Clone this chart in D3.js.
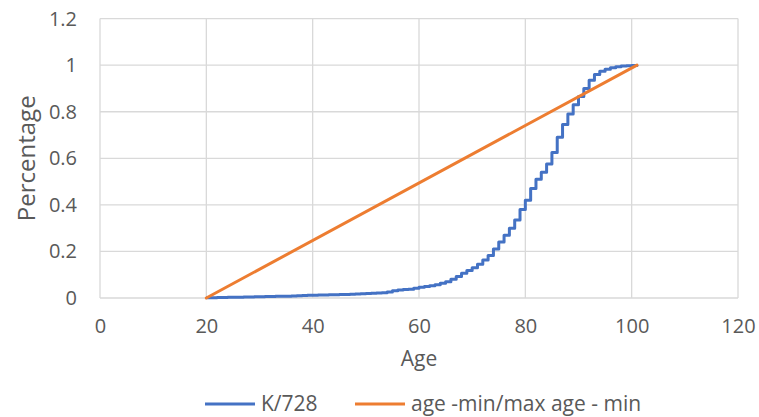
<!DOCTYPE html>
<html>
<head>
<meta charset="utf-8">
<script src="https://cdn.jsdelivr.net/npm/d3@7"></script>
<style>
  html, body { margin: 0; padding: 0; background: #fff; }
  svg { display: block; font-family: "Open Sans", "Noto Sans", sans-serif; }
</style>
</head>
<body>
<svg id="chart" width="759" height="417"></svg>
<script>
// Cumulative share of people at or below each age (K/728)
const ages = [
  20,21,22,23,24,25,26,27,28,29,30,31,32,33,34,35,36,37,38,39,
  40,41,42,43,44,45,46,47,48,49,50,51,52,53,54,55,56,57,58,59,
  60,61,62,63,64,65,66,67,68,69,70,71,72,73,74,75,76,77,78,79,
  80,81,82,83,84,85,86,87,88,89,90,91,92,93,94,95,96,97,98,99,
  100,101
];
const cumShare = [
  0.001,0.001,0.002,0.002,0.003,0.003,0.003,0.004,0.004,0.005,0.005,0.006,0.006,0.007,0.008,0.008,0.009,0.010,0.011,0.012,
  0.012,0.013,0.013,0.014,0.014,0.015,0.015,0.016,0.017,0.018,0.019,0.020,0.021,0.023,0.026,0.031,0.034,0.036,0.038,0.042,
  0.046,0.049,0.053,0.057,0.063,0.070,0.080,0.092,0.106,0.118,0.130,0.145,0.163,0.183,0.210,0.240,0.270,0.300,0.335,0.380,
  0.420,0.470,0.510,0.540,0.575,0.625,0.690,0.745,0.790,0.830,0.865,0.900,0.935,0.960,0.974,0.983,0.989,0.993,0.996,0.998,
  0.999,1.000
];
// Linear reference: (age - min) / (max age - min)
const minAge = 20, maxAge = 101;
const linearAges = [minAge, maxAge];
const linearShare = [0, 1];

const xTicks = [0, 20, 40, 60, 80, 100, 120];
const yTicks = [0, 0.2, 0.4, 0.6, 0.8, 1, 1.2];
const seriesNames = ["K/728", "age -min/max age - min"];
const seriesColors = ["#4472C4", "#ED7D31"];

const svg = d3.select("#chart");
const plot = { left: 100, right: 738, top: 18.6, bottom: 298 };

const x = d3.scaleLinear().domain([0, 120]).range([plot.left, plot.right]);
const y = d3.scaleLinear().domain([0, 1.2]).range([plot.bottom, plot.top]);

const textColor = "#595959";
const gridColor = "#d9d9d9";

// Gridlines
const grid = svg.append("g");
grid.selectAll(".hg").data(yTicks).join("line")
  .attr("x1", plot.left).attr("x2", plot.right)
  .attr("y1", d => y(d)).attr("y2", d => y(d))
  .attr("stroke", gridColor).attr("stroke-width", 1.3);
grid.selectAll(".vg").data(xTicks).join("line")
  .attr("x1", d => x(d)).attr("x2", d => x(d))
  .attr("y1", plot.top).attr("y2", plot.bottom)
  .attr("stroke", gridColor).attr("stroke-width", 1.3);

// Axes (labels only, lines drawn by grid)
const xAxis = svg.append("g")
  .attr("transform", `translate(0,${plot.bottom})`)
  .call(d3.axisBottom(x).tickValues(xTicks).tickSize(0).tickPadding(21).tickFormat(d3.format("d")));
const yAxis = svg.append("g")
  .attr("transform", `translate(${plot.left},0)`)
  .call(d3.axisLeft(y).tickValues(yTicks).tickSize(0).tickPadding(23).tickFormat(d => d3.format("")(+d.toFixed(1))));
[xAxis, yAxis].forEach(a => {
  a.select(".domain").remove();
  a.attr("font-size", null).attr("font-family", null);
  a.selectAll("text").attr("fill", textColor).style("font-size", "20px")
    .style("font-family", "'Open Sans', sans-serif");
});

// Series
const stepLine = d3.line()
  .x((d, i) => x(ages[i]))
  .y(d => y(d))
  .curve(d3.curveStepAfter);
svg.append("path")
  .attr("d", stepLine(cumShare))
  .attr("fill", "none")
  .attr("stroke", seriesColors[0])
  .attr("stroke-width", 3)
  .attr("stroke-linejoin", "round");

const straight = d3.line()
  .x((d, i) => x(linearAges[i]))
  .y(d => y(d));
svg.append("path")
  .attr("d", straight(linearShare))
  .attr("fill", "none")
  .attr("stroke", seriesColors[1])
  .attr("stroke-width", 3)
  .attr("stroke-linecap", "round");

// Axis titles
svg.append("text")
  .attr("x", (plot.left + plot.right) / 2).attr("y", 366)
  .attr("text-anchor", "middle")
  .attr("fill", textColor).style("font-size", "21px")
  .text("Age");
svg.append("text")
  .attr("transform", `translate(35,${(plot.top + plot.bottom) / 2}) rotate(-90)`)
  .attr("text-anchor", "middle")
  .attr("fill", textColor).style("font-size", "24px")
  .text("Percentage");

// Legend
const legendItems = [
  { name: seriesNames[0], color: seriesColors[0], x0: 205 },
  { name: seriesNames[1], color: seriesColors[1], x0: 355 }
];
const legend = svg.append("g").attr("transform", "translate(0,404)");
legendItems.forEach(item => {
  legend.append("line")
    .attr("x1", item.x0).attr("x2", item.x0 + 50)
    .attr("y1", 0).attr("y2", 0)
    .attr("stroke", item.color).attr("stroke-width", 3);
  legend.append("text")
    .attr("x", item.x0 + 56).attr("y", 0).attr("dy", "0.35em")
    .attr("fill", textColor).style("font-size", "21px")
    .text(item.name);
});
</script>
</body>
</html>
